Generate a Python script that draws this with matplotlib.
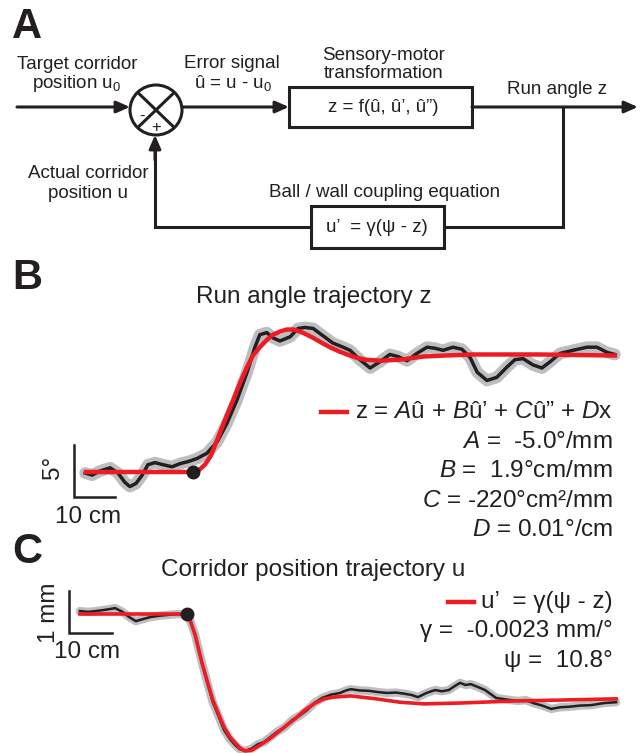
import numpy as np
import matplotlib
matplotlib.use("Agg")
import matplotlib.pyplot as plt
from matplotlib.patches import Rectangle, Ellipse

plt.rcParams["font.family"] = ["Liberation Sans", "DejaVu Sans"]
plt.rcParams["mathtext.fontset"] = "custom"
plt.rcParams["mathtext.rm"] = "Liberation Sans"
plt.rcParams["mathtext.it"] = "Liberation Sans:italic"
plt.rcParams["mathtext.default"] = "regular"

INK = "#231f20"
RED = "#ed1c24"
GRAY = "#bcbec0"

# ---- panel B: run angle z (deg) vs distance (cm), onset at 0 ----
b_data_x = [-26.3, -24.6, -22.7, -20.2, -18.3, -16.6, -15.4, -13.9, -12.4, -11.0, -9.3,
            -7.3, -5.1, -3.2, -1.2, 1.0, 3.4, 5.9, 8.3, 10.7, 13.2, 15.1, 16.3, 18.0,
            19.5, 21.2, 23.7, 25.6, 27.3, 29.3, 31.7, 34.1, 36.6, 38.3, 40.7, 43.2,
            45.6, 48.0, 50.0, 52.2, 54.6, 57.1, 59.0, 61.0, 63.4, 65.6, 67.6, 69.3,
            71.7, 74.1, 76.6, 78.5, 80.5, 82.9, 85.1, 87.1, 89.5, 92.7, 96.1, 98.5,
            101.0, 102.9]
b_data_y = [-0.1, -0.3, 0.1, 0.4, -0.1, -1.0, -1.4, -1.1, -0.3, 0.7, 0.9,
            0.7, 0.5, 0.8, 1.0, 1.3, 1.8, 2.9, 4.7, 6.9, 9.6, 12.0, 13.2, 13.4,
            12.9, 12.6, 13.0, 13.8, 13.9, 13.8, 13.1, 12.4, 12.0, 11.7, 10.8, 10.0,
            10.6, 11.3, 11.1, 10.7, 11.4, 12.0, 11.9, 11.7, 12.0, 11.8, 11.0, 9.6,
            8.8, 9.1, 10.1, 10.8, 10.9, 10.3, 10.0, 10.6, 11.4, 11.7, 12.0, 12.0,
            11.5, 11.3]
b_fit_x = [-26.1, 0.0, 1.5, 2.9, 4.4, 5.9, 7.8, 9.8, 11.5, 13.2, 14.6, 16.3, 18.0,
           19.5, 21.2, 22.9, 24.6, 26.1, 27.8, 29.3, 31.5, 33.4, 35.6, 37.6, 39.8,
           42.0, 45.6, 50.5, 56.1, 61.5, 68.3, 84.6, 102.9]
b_fit_y = [0.0, 0.0, 0.2, 0.7, 1.6, 3.1, 5.0, 6.9, 8.6, 10.1, 11.2, 12.0, 12.7,
           13.2, 13.5, 13.7, 13.7, 13.5, 13.2, 12.9, 12.4, 12.0, 11.6, 11.3, 11.0,
           10.8, 10.7, 10.8, 11.1, 11.2, 11.3, 11.3, 11.2]

# ---- panel C: corridor position u (mm) vs distance (cm) ----
c_data_x = [-24.9, -23.0, -21.2, -19.0, -16.7, -15.0, -13.5, -11.9, -10.2, -8.4, -6.3,
            -4.2, -2.0, 0.0, 0.7, 1.9, 3.5, 4.9, 6.0, 7.4, 8.6, 10.0, 11.2, 12.3, 13.5,
            15.1, 16.5, 17.9, 19.5, 21.0, 22.8, 24.5, 26.2, 27.9, 29.6, 31.4, 33.5,
            35.6, 37.0, 38.1, 40.2, 42.3, 44.5, 46.5, 48.6, 50.7, 52.3, 53.7, 55.7,
            57.7, 59.3, 60.9, 62.2, 63.5, 64.8, 66.0, 67.7, 69.3, 71.9, 74.5, 77.0,
            78.8, 80.5, 82.6, 84.7, 86.8, 88.8, 91.4, 94.0, 97.0, 99.8]
c_data_y = [0.07, 0.05, 0.07, 0.10, 0.14, 0.05, -0.07, -0.17, -0.12, -0.07, -0.04,
            -0.02, 0.0, -0.02, -0.15, -0.50, -1.17, -1.70, -2.10, -2.45, -2.76, -2.98,
            -3.12, -3.22, -3.26, -3.20, -3.10, -3.05, -2.92, -2.80, -2.69, -2.52, -2.42,
            -2.29, -2.12, -2.00, -1.92, -1.88, -1.82, -1.79, -1.82, -1.83, -1.86, -1.88,
            -1.87, -1.90, -1.93, -1.98, -1.88, -1.81, -1.84, -1.81, -1.72, -1.64, -1.69,
            -1.67, -1.74, -1.81, -2.00, -2.04, -2.07, -2.05, -2.12, -2.18, -2.26, -2.22,
            -2.21, -2.18, -2.17, -2.12, -2.10]
c_fit_x = [-24.9, 0.0, 0.7, 1.9, 3.5, 4.9, 6.0, 7.4, 8.6, 10.0, 11.2, 12.3, 13.5,
           15.1, 17.0, 19.1, 21.2, 23.3, 25.3, 27.4, 29.8, 31.9, 34.0, 38.1, 44.0,
           49.5, 55.1, 63.5, 76.3, 86.7, 99.8]
c_fit_y = [0.0, 0.0, -0.14, -0.50, -1.17, -1.67, -2.05, -2.40, -2.69, -2.93, -3.07,
           -3.19, -3.26, -3.24, -3.12, -2.98, -2.81, -2.64, -2.48, -2.29, -2.12, -2.02,
           -1.98, -1.95, -2.02, -2.10, -2.14, -2.12, -2.07, -2.05, -2.02]

W, H = 643, 753
fig = plt.figure(figsize=(W / 100, H / 100), dpi=100)


def trace_axes(x0, x1, y0, y1, xlim, ylim):
    ax = fig.add_axes([x0 / W, 1 - y1 / H, (x1 - x0) / W, (y1 - y0) / H])
    ax.set_xlim(*xlim)
    ax.set_ylim(*ylim)
    ax.axis("off")
    return ax


# B: 4.1 px per cm, 10.4 px per degree, onset at pixel (193, 472)
axb = trace_axes(60, 630, 300, 510,
                 ((60 - 193) / 4.1, (630 - 193) / 4.1), ((472 - 510) / 10.4, (472 - 300) / 10.4))
axb.plot(b_data_x, b_data_y, color=GRAY, lw=8.5, solid_capstyle="round", solid_joinstyle="round")
axb.plot(b_data_x, b_data_y, color=INK, lw=2.5, solid_joinstyle="round")
axb.plot(b_fit_x, b_fit_y, color=RED, lw=3.2, solid_joinstyle="round")
axb.plot([0], [0], "o", color=INK, ms=9, zorder=5)
sbx = -29.0
axb.plot([sbx, sbx, sbx + 10], [-2.4 + 5, -2.4, -2.4], color=INK, lw=1.8, solid_joinstyle="miter")

# C: 4.3 px per cm, 42 px per mm, onset at pixel (187, 614)
axc = trace_axes(60, 630, 575, 753,
                 ((60 - 187) / 4.3, (630 - 187) / 4.3), ((614 - 753) / 42, (614 - 575) / 42))
axc.plot(c_data_x, c_data_y, color=GRAY, lw=6, solid_capstyle="round", solid_joinstyle="round",
         clip_on=False)
axc.plot(c_data_x, c_data_y, color=INK, lw=1.8, solid_joinstyle="round", clip_on=False)
axc.plot(c_fit_x, c_fit_y, color=RED, lw=2.6, solid_joinstyle="round", clip_on=False)
axc.plot([0], [0], "o", color=INK, ms=9, zorder=5)
scx = -27.4
axc.plot([scx, scx, scx + 10], [-0.452 + 1, -0.452, -0.452], color=INK, lw=1.8, solid_joinstyle="miter")

# overlay in pixel coordinates for the diagram and labels
ov = fig.add_axes([0, 0, 1, 1])
ov.set_xlim(0, W)
ov.set_ylim(H, 0)
ov.axis("off")

LW = 2.2


def arrow(x0, y0, x1, y1):
    ov.annotate("", xy=(x1, y1), xytext=(x0, y0),
                arrowprops=dict(arrowstyle="-|>,head_length=0.8,head_width=0.35", lw=LW,
                                color=INK, shrinkA=0, shrinkB=0))


def line(xs, ys):
    ov.plot(xs, ys, color=INK, lw=LW, solid_joinstyle="miter", solid_capstyle="butt")


# panel labels
for lab, y in [("A", 38), ("B", 289), ("C", 563)]:
    ov.text(12, y, lab, fontsize=30, fontweight="bold", va="baseline", ha="left", color=INK)

fs_a = 13.5
# summing junction
cx, cy, rx, ry = 156, 110, 26, 25
ov.add_patch(Ellipse((cx, cy), 2 * rx, 2 * ry, fill=False, lw=LW, ec=INK))
d = np.sqrt(0.5)
line([cx - rx * d, cx + rx * d], [cy - ry * d, cy + ry * d])
line([cx - rx * d, cx + rx * d], [cy + ry * d, cy - ry * d])
ov.text(142, 116, "-", fontsize=12, ha="center", va="center", color=INK)
ov.text(156, 127, "+", fontsize=12, ha="center", va="center", color=INK)

arrow(17, 107, cx - rx, 107)
ov.text(77, 64, "Target corridor", fontsize=fs_a, ha="center", va="center", color=INK)
ov.text(77, 83, r"position u$_{0}$", fontsize=fs_a, ha="center", va="center", color=INK)

arrow(cx + rx, 107, 289, 107)
ov.text(232, 63, "Error signal", fontsize=fs_a, ha="center", va="center", color=INK)
ov.text(233, 83, r"û = u - u$_{0}$", fontsize=fs_a, ha="center", va="center", color=INK)

ov.add_patch(Rectangle((289, 87), 472 - 289, 40, fill=False, lw=LW, ec=INK))
ov.text(384, 55, "Sensory-motor", fontsize=fs_a, ha="center", va="center", color=INK)
ov.text(384, 73, "transformation", fontsize=fs_a, ha="center", va="center", color=INK)
ov.text(383, 107, "z = f(û, û’, û”)", fontsize=fs_a, ha="center", va="center", color=INK)

arrow(472, 107, 638, 107)
ov.text(557, 89, "Run angle z", fontsize=fs_a, ha="center", va="center", color=INK)
line([563, 563, 444], [107, 227, 227])

ov.add_patch(Rectangle((311, 206), 444 - 311, 42, fill=False, lw=LW, ec=INK))
ov.text(377, 227, "u’  = γ(ψ - z)", fontsize=fs_a, ha="center", va="center", color=INK)
ov.text(385, 192, "Ball / wall coupling equation", fontsize=fs_a, ha="center", va="center", color=INK)
line([311, 155], [227, 227])
ov.plot([155, 155], [227, 150], color=INK, lw=LW)
arrow(155, 160, 155, cy + ry)
ov.text(88, 173, "Actual corridor", fontsize=fs_a, ha="center", va="center", color=INK)
ov.text(88, 193, "position u", fontsize=fs_a, ha="center", va="center", color=INK)

fs_b = 17.5


def key_block(lines, y0, gap):
    # right-aligned text block; red key segment placed just left of the first line
    texts = [ov.text(613, y0 + 29.5 * i, s, fontsize=fs_b, ha="right", va="center", color=INK)
             for i, s in enumerate(lines)]
    fig.canvas.draw()
    left = texts[0].get_window_extent().x0
    ov.plot([left - gap - 26, left - gap], [y0, y0], color=RED, lw=3.2)


# panel B text
ov.text(314, 297, "Run angle trajectory z", fontsize=fs_b, ha="center", va="center", color=INK)
key_block([r"z = $\mathit{A}$û + $\mathit{B}$û’ + $\mathit{C}$û” + $\mathit{D}$x",
           r"$\mathit{A}$ =  -5.0°/mm",
           r"$\mathit{B}$ =  1.9°cm/mm",
           r"$\mathit{C}$ = -220°cm²/mm",
           r"$\mathit{D}$ = 0.01°/cm"], 412, 8)
ov.text(53, 467, "5°", fontsize=fs_b, rotation=90, ha="center", va="center", color=INK)
ov.text(88, 517, "10 cm", fontsize=fs_b, ha="center", va="center", color=INK)

# panel C text
ov.text(313, 570, "Corridor position trajectory u", fontsize=fs_b, ha="center", va="center", color=INK)
key_block(["u’  = γ(ψ - z)", "γ =  -0.0023 mm/°", "ψ =  10.8°"], 602, 7)
ov.text(49, 613, "1 mm", fontsize=fs_b, rotation=90, ha="center", va="center", color=INK)
ov.text(87, 652, "10 cm", fontsize=fs_b, ha="center", va="center", color=INK)

fig.savefig("out.png", dpi=100)
